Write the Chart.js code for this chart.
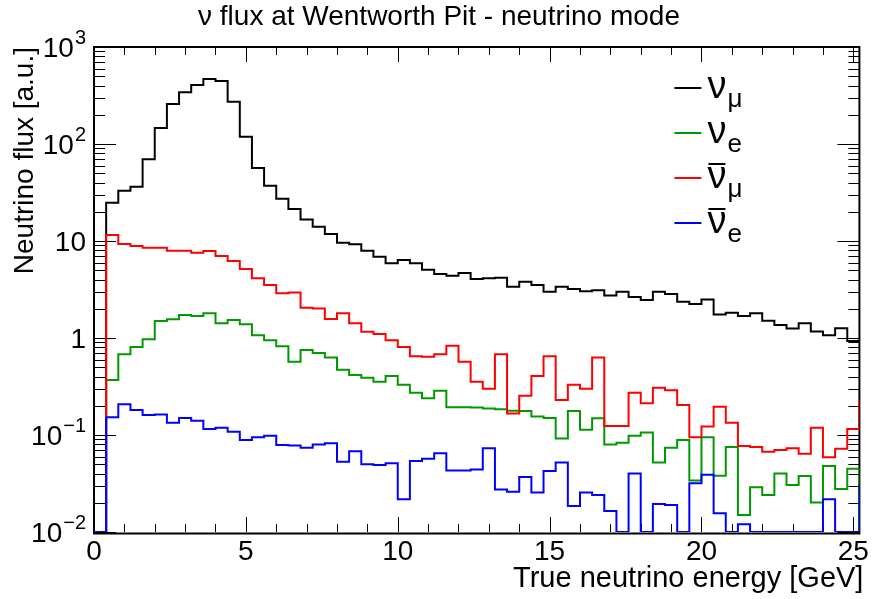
<!DOCTYPE html>
<html>
<head>
<meta charset="utf-8">
<script src="https://cdn.jsdelivr.net/npm/chart.js@4.4.1/dist/chart.umd.min.js"></script>
<style>
  html, body { margin: 0; padding: 0; background: #fff; }
</style>
</head>
<body>
<canvas id="grafico" width="872" height="599"></canvas>
<script>
// histogram bins: 0.4 GeV wide starting at 0; the last entry is the bin just past 25.2 GeV
// (only its edge shows, at the right frame)
const binWidth = 0.4;
const xMax = 25.2;
const yMin = 0.01;
const yMax = 1000;

const numu = [0,
  24.8, 33, 36.3, 69.5, 146, 258, 341, 406, 468, 446,
  273, 119, 56.6, 37.2, 27.3, 21.4, 16.7, 14.0, 11.8, 9.6,
  9.25, 7.95, 6.89, 5.89, 6.37, 5.89, 5.06, 4.57, 4.39, 4.68,
  4.06, 4.12, 4.18, 3.38, 3.8, 3.52, 3.0, 3.38, 3.2, 3.03,
  3.1, 2.75, 2.99, 2.65, 2.46, 3.0, 2.84, 2.37, 2.24, 2.5,
  1.75, 1.82, 1.69, 1.8, 1.51, 1.36, 1.25, 1.42, 1.17, 1.07,
  1.26, 0.93, 0.93];

const nue = [0,
  0.369, 0.68, 0.81, 0.97, 1.5, 1.56, 1.73, 1.69, 1.8, 1.42,
  1.53, 1.39, 1.07, 0.95, 0.82, 0.57, 0.75, 0.70, 0.63, 0.47,
  0.416, 0.39, 0.355, 0.406, 0.33, 0.273, 0.239, 0.286, 0.193, 0.193,
  0.192, 0.188, 0.184, 0.178, 0.177, 0.155, 0.15, 0.092, 0.177, 0.113,
  0.149, 0.08, 0.083, 0.098, 0.106, 0.052, 0.074, 0.089, 0.034, 0.095,
  0.038, 0.075, 0.015, 0.029, 0.024, 0.04, 0.0305, 0.0378, 0.0202, 0.048,
  0.0277, 0.045, 0];

const numubar = [0,
  11.5, 9.3, 8.88, 8.53, 8.5, 7.95, 7.95, 7.58, 7.88, 7.0,
  6.22, 5.14, 4.12, 3.52, 2.89, 2.95, 2.05, 2.02, 1.57, 1.8,
  1.42, 1.16, 1.1, 0.95, 0.81, 0.65, 0.64, 0.68, 0.83, 0.57,
  0.355, 0.30, 0.68, 0.167, 0.254, 0.406, 0.65, 0.23, 0.33, 0.30,
  0.63, 0.124, 0.124, 0.273, 0.212, 0.307, 0.29, 0.204, 0.095, 0.122,
  0.196, 0.134, 0.077, 0.075, 0.067, 0.07, 0.073, 0.064, 0.119, 0.059,
  0.072, 0.115, 0.233];

const nuebar = [0,
  0.152, 0.207, 0.181, 0.161, 0.163, 0.134, 0.15, 0.14, 0.115, 0.119,
  0.108, 0.089, 0.095, 0.098, 0.079, 0.078, 0.074, 0.08, 0.082, 0.053,
  0.068, 0.05, 0.049, 0.051, 0.0217, 0.054, 0.057, 0.065, 0.043, 0.043,
  0.044, 0.073, 0.0275, 0.026, 0.037, 0.0256, 0.0426, 0.052, 0.0185, 0.0256,
  0.024, 0.0165, 0, 0.040, 0, 0.0194, 0.019, 0, 0.0318, 0.039,
  0.0156, 0, 0.012, 0, 0, 0, 0, 0, 0, 0.0217,
  0, 0, 0.0305];

const xTickValues = [0, 5, 10, 15, 20, 25];
const yTickValues = [0.01, 0.1, 1, 10, 100, 1000];
const yTickBase = ['10', '10', '1', '10', '10', '10'];
const yTickExp = ['\u22122', '\u22121', '', '', '2', '3'];

const legendSub = ['\u03bc', 'e', '\u03bc', 'e'];
const legendBar = [false, false, true, true];

const FONT = '"Liberation Sans", Arial, sans-serif';
Chart.defaults.font.family = FONT;

// empty bins sit on the bottom of the frame, like ROOT draws them on a log axis
function toPoints(values) {
  return values.map((v, i) => ({ x: i * binWidth, y: v > 0 ? v : yMin }));
}

const series = [
  { values: numu, color: '#000000' },
  { values: nue, color: '#009900' },
  { values: numubar, color: '#ff0000' },
  { values: nuebar, color: '#0000ff' }
];

// frame, inward ticks, log labels, legend and titles in ROOT style
const rootStyle = {
  id: 'rootStyle',
  beforeDatasetsDraw(chart) {
    const { ctx, chartArea: a, scales: { x, y } } = chart;
    ctx.save();
    ctx.strokeStyle = '#000';
    ctx.lineWidth = 1;
    ctx.beginPath();
    for (let v = 0; v <= 25; v++) {
      const px = Math.round(x.getPixelForValue(v)) + 0.5;
      const len = v % 5 === 0 ? 15 : 8;
      ctx.moveTo(px, a.bottom); ctx.lineTo(px, a.bottom - len);
      ctx.moveTo(px, a.top); ctx.lineTo(px, a.top + len);
    }
    for (let e = -2; e <= 3; e++) {
      for (let m = 1; m <= 9; m++) {
        const v = m * Math.pow(10, e);
        if (v > yMax) break;
        const py = Math.round(y.getPixelForValue(v)) + 0.5;
        const len = m === 1 ? 22 : 11;
        ctx.moveTo(a.left, py); ctx.lineTo(a.left + len, py);
        ctx.moveTo(a.right, py); ctx.lineTo(a.right - len, py);
      }
    }
    ctx.stroke();
    ctx.lineWidth = 2;
    ctx.strokeRect(a.left, a.top, a.right - a.left, a.bottom - a.top + 1.5);
    ctx.restore();
  },
  afterDraw(chart) {
    const { ctx, chartArea: a, scales: { y } } = chart;
    ctx.save();
    ctx.fillStyle = '#000';
    ctx.textBaseline = 'alphabetic';

    // titles
    ctx.font = '28px ' + FONT;
    ctx.textAlign = 'center';
    ctx.fillText('\u03bd flux at Wentworth Pit - neutrino mode', 439, 25);
    ctx.font = '29px ' + FONT;
    ctx.textAlign = 'right';
    ctx.fillText('True neutrino energy [GeV]', a.right + 4, 587);

    // y tick labels with superscripts
    const rightEdge = a.left - 8;
    yTickValues.forEach((v, i) => {
      const py = y.getPixelForValue(v);
      let xr = rightEdge;
      if (yTickExp[i]) {
        ctx.font = '20px ' + FONT;
        const w = ctx.measureText(yTickExp[i]).width;
        ctx.textAlign = 'left';
        ctx.fillText(yTickExp[i], rightEdge - w, py - 3);
        xr = rightEdge - w - 1;
      }
      ctx.font = '28px ' + FONT;
      ctx.textAlign = 'right';
      ctx.fillText(yTickBase[i], xr, py + 10);
    });

    // legend
    const lx = a.right - 185;
    series.forEach((s, i) => {
      const ry = a.top + 41 + 45 * i;
      ctx.strokeStyle = s.color;
      ctx.lineWidth = 2;
      ctx.beginPath();
      ctx.moveTo(lx, ry); ctx.lineTo(lx + 27, ry);
      ctx.stroke();
      ctx.font = '38px ' + FONT;
      ctx.textAlign = 'left';
      const tx = lx + 33;
      ctx.fillText('\u03bd', tx, ry + 10);
      const nw = ctx.measureText('\u03bd').width;
      if (legendBar[i]) {
        ctx.strokeStyle = '#000';
        ctx.beginPath();
        ctx.moveTo(tx + 1, ry - 14); ctx.lineTo(tx + nw - 1, ry - 14);
        ctx.stroke();
      }
      ctx.font = '26px ' + FONT;
      ctx.fillText(legendSub[i], tx + nw + 1, ry + 19);
    });
    ctx.restore();
  }
};

new Chart(document.getElementById('grafico').getContext('2d'), {
  type: 'line',
  data: {
    datasets: series.map((s, i) => ({
      data: toPoints(s.values),
      borderColor: s.color,
      borderWidth: 2,
      stepped: 'before',
      fill: false,
      pointRadius: 0,
      order: series.length - i
    }))
  },
  options: {
    responsive: false,
    animation: false,
    layout: { padding: { top: 47, right: 11, bottom: 0, left: 0 } },
    plugins: {
      legend: { display: false },
      title: { display: false },
      tooltip: { enabled: false }
    },
    scales: {
      x: {
        type: 'linear',
        min: 0,
        max: xMax,
        grid: { display: false, drawTicks: false },
        border: { display: false },
        afterBuildTicks: s => { s.ticks = xTickValues.map(v => ({ value: v })); },
        afterFit: s => { s.height = 67; },
        ticks: { font: { size: 28 }, color: '#000', padding: 3, maxRotation: 0, autoSkip: false }
      },
      y: {
        type: 'logarithmic',
        min: yMin,
        max: yMax,
        grid: { display: false, drawTicks: false },
        border: { display: false },
        ticks: { display: false },
        afterFit: s => { s.width = 94; },
        title: {
          display: true,
          text: 'Neutrino flux [a.u.]',
          align: 'end',
          color: '#000',
          font: { size: 28 },
          padding: { top: 8, bottom: 0 }
        }
      }
    }
  },
  plugins: [rootStyle]
});
</script>
</body>
</html>
